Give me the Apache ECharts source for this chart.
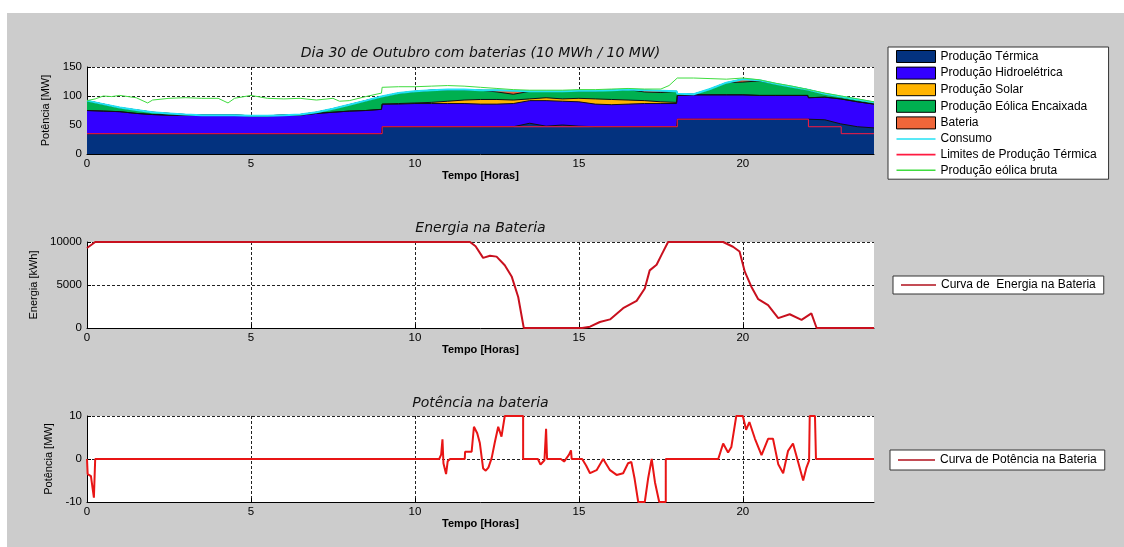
<!DOCTYPE html>
<html><head><meta charset="utf-8">
<script src="https://cdn.jsdelivr.net/npm/echarts@6/dist/echarts.min.js"></script>
<style>
html,body{margin:0;padding:0;background:#fff;overflow:hidden;}
#bg{position:absolute;left:7px;top:13px;width:1117px;height:534px;background:#cccccc;}
#chart{position:absolute;left:0;top:0;width:1124px;height:547px;}
</style></head><body><div id="bg"></div><div id="chart"></div>
<script>
// ---------- DATA ----------
const hours = [0,0.5,1,1.5,2,2.5,3,3.5,4,4.5,5,5.5,6,6.5,7,7.5,8,8.5,8.98,
  9,9.5,10,10.5,11,11.5,12,12.5,13,
  13.5,14,14.5,15,15.5,16,16.5,17,17.5,17.98,
  18,18.5,19,19.5,20,20.5,21,21.5,21.98,
  22,22.5,22.98,23,23.5,24];
const thermal = [35,35,35,35,35,35,35,35,35,35,35,35,35,35,35,35,35,35,35,
  47,47,47,47,47,47,47,47,47,
  53,48,50,48,47,47,47,47,47,47,
  60,60,60,60,60,60,60,60,60,
  61,59,52,50,47,45];
const hydro = [40,39,38,35,33,32,32,32,32,32,31,31,32,32,35,37,39,40,42,
  39,39,40,40,40,40,39,39,40,
  39,44,41,42,39,38,39,40,40,40,
  41,42,42,42,42,41,41,41,41,
  36,39,43,45,43,41];
const solar = [0,0,0,0,0,0,0,0,0,0,0,0,0,0,0,0,0,0,0,
  0,1,1,2,4,6,8,8,6,
  3,5,4,6,9,9,7,5,3,2,
  0,0,0,0,0,0,0,0,0,
  0,0,0,0,0,0];
const wind = [17,12,7,6,4,3,1,0,0,0,0,0,0,1,2,6,11,17,22,
  14,18,20,21,20,18,16,13,10,
  13,11,13,13,14,16,18,15,16,19,
  3,1,10,21,22,25,20,15,10,
  13,6,4,4,4,3];
const battery = [0,0,0,0,0,0,0,0,0,0,0,0,0,0,0,0,0,0,0,
  0,0,0,0,0,0,0,3,6,
  0,0,0,0,0,0,0,3,3,0,
  0,0,0,0,5,1,0,0,0,
  0,0,0,0,0,0];
const consumption = [92,86,80,76,72,70,68,67,67,67,66,66,67,68,72,78,85,92,99,
  100,105,108,110,111,111,110,110,109,
  108,108,108,109,109,110,111,110,109,108,
  104,103,112,123,129,127,121,116,111,
  110,104,99,99,94,89];
const limitHours = [0,9,9,18,18,22,22,23,23,24];
const limitValues = [35,35,47,47,60,60,47,47,35,35];
const windRawHours = [0,0.25,0.5,0.75,1,1.25,1.5,1.85,2,2.5,3,3.5,4,4.3,4.5,5,5.5,6,6.5,7,7.5,7.7,8,8.5,8.98,
  9,9.5,10,10.5,11,11.5,12,12.5,13,13.5,14,14.5,15,15.5,16,16.5,17,17.5,17.75,
  18,18.5,19,19.5,20,20.5,21,21.5,22,22.5,23,23.5,24];
const windRawValues = [92,95,100,99,101,99,97,88,93,96,97,96,96,88,96,101,96,95,96,93,96,91,92,99,105,
  115,116,116,117,118,117,115,113,111,110,110,110,111,111,112,113,112,112,118,
  131,131,130,129,131,128,122,117,111,105,100,95,90];
const energyHours = [0,0.25,11.68,11.85,12.08,12.29,12.49,12.74,12.95,13.15,13.32,
  14.0,14.02,14.05,14.72,14.74,14.76,15.1,15.34,15.64,15.95,16.35,16.76,17.01,17.16,17.37,17.52,17.72,
  19.4,19.7,19.9,20.06,20.26,20.47,20.77,21.08,21.43,21.79,22.09,22.25,24];
const energyValues = [9300,10000,10000,9500,8150,8400,8300,7300,6000,3600,0,
  0,120,0,0,60,0,0,150,700,1000,2300,3150,4600,6700,7350,8500,10000,
  10000,9450,8900,6550,4800,3350,2650,1150,1600,950,1700,0,0];
const powerHours = [0,0.02,0.12,0.17,0.21,0.24,0.25,
  10.74,10.8,10.84,10.87,10.95,11.0,11.07,
  11.52,11.53,11.73,11.8,11.85,11.9,11.98,12.08,12.16,12.24,12.34,12.44,12.54,12.64,12.74,13.3,13.3,
  13.75,13.83,13.95,14.0,14.03,14.45,14.55,14.7,14.76,14.78,
  15.1,15.22,15.34,15.54,15.74,15.95,16.15,16.35,16.5,16.6,16.7,16.81,17.01,17.11,17.22,17.32,17.45,17.65,17.65,
  19.25,19.4,19.55,19.65,19.8,20.0,20.1,20.2,20.37,20.57,20.77,20.92,21.08,21.23,21.38,21.53,21.69,21.84,21.94,22.02,22.04,22.2,22.23,24];
const powerValues = [0,-3.5,-4,-3.6,-9,-9,0,
  0,1,4.6,-1,-3.5,-0.5,0,
  0,1.7,1.7,7.5,7.9,6,3.7,-2.2,-2.7,-2,0.2,4,7.5,5.2,10,10,0,
  0,-1.3,-0.3,7,0,0,-0.6,1,2,0,
  0,-1.5,-3.3,-2.6,0,-2.6,-3.7,-3.3,-1,-0.7,-4.6,-10,-10,-4.6,0,-5.4,-10,-10,0,
  0,3.6,1.5,2.8,10,10,6.8,8.6,4.7,0.9,4.7,4.7,-1.2,-3.3,1.9,3.6,-0.8,-5,-2,-0.4,10,10,0,0];
const xTicks = {min:0, max:24, interval:5};
const names = ['Produção Térmica','Produção Hidroelétrica','Produção Solar','Produção Eólica Encaixada','Bateria','Consumo','Limites de Produção Térmica','Produção eólica bruta'];
const colors = ['#03327f','#3300ff','#ffb400','#00b050','#f0663a','#22e2f5','#ff1a40','#3fdc3f'];

// ---------- CHART ----------
const FONT = 'Arial, "Liberation Sans", Helvetica, sans-serif';
const TFONT = '"DejaVu Sans", Verdana, sans-serif';
const pairs = (xs, ys) => xs.map((x, i) => [x, ys[i]]);
const grids = [
  {left:87, top:67, width:787, height:87},
  {left:87, top:242, width:787, height:86},
  {left:87, top:416, width:787, height:86}
].map(g => Object.assign(g, {show:true, backgroundColor:'#fff', borderWidth:0, containLabel:false}));

function xAx(gi) {
  return {type:'value', gridIndex:gi, min:xTicks.min, max:xTicks.max, interval:xTicks.interval,
    axisLine:{show:true, onZero:false, lineStyle:{color:'#000', width:1}},
    axisTick:{show:true, inside:true, length:4, lineStyle:{color:'#000'}},
    axisLabel:{color:'#000', fontFamily:FONT, fontSize:11.5, margin:4, showMaxLabel:false,
      formatter: v => (v === 24 ? '' : String(v))},
    splitLine:{show:true, showMinLine:false, showMaxLine:false, lineStyle:{color:'#222', type:[3,2], width:1}},
    name:'Tempo [Horas]', nameLocation:'middle', nameGap:15,
    nameTextStyle:{color:'#000', fontFamily:FONT, fontSize:11, fontWeight:'bold'}};
}
function yAx(gi, min, max, interval, name, gap) {
  return {type:'value', gridIndex:gi, min, max, interval,
    axisLine:{show:true, lineStyle:{color:'#000', width:1}},
    axisTick:{show:true, inside:true, length:4, lineStyle:{color:'#000'}},
    axisLabel:{color:'#000', fontFamily:FONT, fontSize:11.5, margin:5, formatter: v => String(v)},
    splitLine:{show:true, showMinLine:false, lineStyle:{color:'#222', type:[3,2], width:1}},
    name, nameLocation:'middle', nameRotate:90, nameGap:gap,
    nameTextStyle:{color:'#000', fontFamily:FONT, fontSize:11}};
}
// cumulative tops of the stacked production layers
const layers = [thermal, hydro, solar, wind, battery];
const tops = [];
layers.forEach((arr, k) => tops.push(arr.map((v, i) => v + (k ? tops[k - 1][i] : 0))));
const series = [];
for (let k = layers.length - 1; k >= 0; k--) {
  series.push({name:names[k], type:'line', xAxisIndex:0, yAxisIndex:0, symbol:'none',
    data:pairs(hours, tops[k]), color:colors[k],
    lineStyle:{color:'#111', width:1}, areaStyle:{color:colors[k], opacity:1, origin:'start'}, z:2, silent:true});
}
series.push({name:names[5], type:'line', xAxisIndex:0, yAxisIndex:0, symbol:'none',
  data:pairs(hours, consumption), color:colors[5], lineStyle:{color:colors[5], width:2}, z:4});
series.push({name:names[6], type:'line', xAxisIndex:0, yAxisIndex:0, symbol:'none',
  data:pairs(limitHours, limitValues), color:colors[6], lineStyle:{color:colors[6], width:1}, z:5});
series.push({name:names[7], type:'line', xAxisIndex:0, yAxisIndex:0, symbol:'none',
  data:pairs(windRawHours, windRawValues), color:colors[7], lineStyle:{color:colors[7], width:1}, z:6});
series.push({name:'Curva de  Energia na Bateria', type:'line', xAxisIndex:1, yAxisIndex:1, symbol:'none',
  data:pairs(energyHours, energyValues), color:'#c8101e', lineStyle:{color:'#c8101e', width:2}, z:4});
series.push({name:'Curva de Potência na Bateria', type:'line', xAxisIndex:2, yAxisIndex:2, symbol:'none',
  data:pairs(powerHours, powerValues), color:'#e81515', lineStyle:{color:'#e81515', width:2}, z:4});

const LINE_ICON = 'path://M0,0H40V1.6H0Z';
const legendText = {fontFamily:FONT, fontSize:12, color:'#000'};
const legendBox = {orient:'vertical', backgroundColor:'#fff', borderColor:'#333', borderWidth:1,
  borderRadius:0, textStyle:legendText, itemGap:3.6, selectedMode:false, symbolKeepAspect:true};
const legendData0 = names.map((n, i) => i < 5
  ? {name:n, icon:'rect', itemStyle:{color:colors[i], borderColor:'#000', borderWidth:1}}
  : {name:n, icon:LINE_ICON, itemStyle:{color:colors[i], borderWidth:0}});

const option = {
  animation:false,
  backgroundColor:'transparent',
  grid:grids,
  xAxis:[xAx(0), xAx(1), xAx(2)],
  yAxis:[yAx(0,0,150,50,'Potência [MW]',34), yAx(1,0,10000,5000,'Energia [kWh]',46), yAx(2,-10,10,10,'Potência [MW]',31)],
  legend:[
    Object.assign({}, legendBox, {left:888, top:47, itemWidth:39, itemHeight:12, padding:[3,12,3,8], data:legendData0}),
    Object.assign({}, legendBox, {left:893, top:276, itemWidth:35, itemHeight:12, padding:[3,8,3,8],
      data:[{name:'Curva de  Energia na Bateria', icon:LINE_ICON, itemStyle:{color:'#b0101c', borderWidth:0}}]}),
    Object.assign({}, legendBox, {left:890, top:450, itemWidth:37, itemHeight:12, padding:[4,8,4,8],
      data:[{name:'Curva de Potência na Bateria', icon:LINE_ICON, itemStyle:{color:'#b0101c', borderWidth:0}}]})
  ],
  graphic:[
    {type:'text', x:480.5, y:53, style:{text:'Dia 30 de Outubro com baterias (10 MWh / 10 MW)', font:'italic 14px ' + TFONT, fill:'#111', textAlign:'center', textVerticalAlign:'middle'}},
    {type:'text', x:480.5, y:228, style:{text:'Energia na Bateria', font:'italic 14px ' + TFONT, fill:'#111', textAlign:'center', textVerticalAlign:'middle'}},
    {type:'text', x:480.5, y:403, style:{text:'Potência na bateria', font:'italic 14px ' + TFONT, fill:'#111', textAlign:'center', textVerticalAlign:'middle'}}
  ],
  series
};
const chart = echarts.init(document.getElementById('chart'), null, {renderer:'canvas'});
chart.setOption(option);
</script></body></html>
